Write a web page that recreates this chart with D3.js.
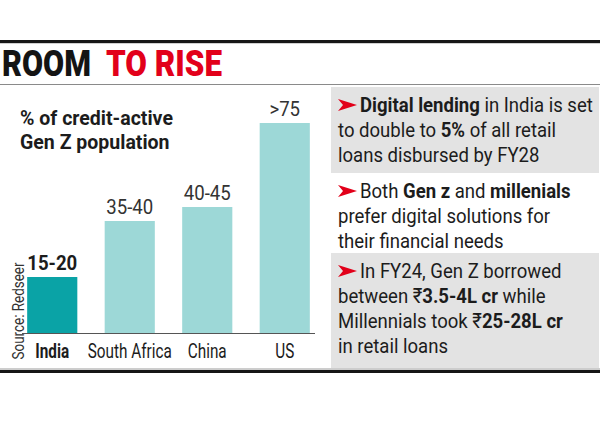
<!DOCTYPE html>
<html><head><meta charset="utf-8">
<script src="https://cdn.jsdelivr.net/npm/d3@7"></script>
<style>body{margin:0;background:#fff}svg{display:block}</style>
</head><body><svg id="c" width="600" height="425"></svg>
<script>
// ---------- data ----------
const titleParts = ["ROOM", "TO RISE"];
const titleColors = ["#141414", "#e2001a"];
const subtitleLines = ["% of credit-active", "Gen Z population"];
const categories = ["India", "South Africa", "China", "US"];
const values = [20, 40, 45, 75];            // upper bound of each range
const valueLabels = ["15-20", "35-40", "40-45", ">75"];
const highlight = "India";
const sourceText = "Source: Redseer";
const noteLines = [
  [ [["Digital lending",1],[" in India is set",0]],
    [["to double to ",0],["5%",1],[" of all retail",0]],
    [["loans disbursed by FY28",0]] ],
  [ [["Both ",0],["Gen z",1],[" and ",0],["millenials",1]],
    [["prefer digital solutions for",0]],
    [["their financial needs",0]] ],
  [ [["In FY24, Gen Z borrowed",0]],
    [["between ₹",0],["3.5-4L cr",1],[" while",0]],
    [["Millennials took ₹",0],["25-28L cr",1]],
    [["in retail loans",0]] ]
];

// ---------- setup ----------
const svg = d3.select("#c");
const FONT = "Roboto, 'Noto Sans', 'DejaVu Sans', sans-serif";
const INK = "#1c1c1c";

function scaleFor(sel, target) {
  const w = sel.node().getComputedTextLength();
  return w > 0 ? target / w : 1;
}

// top rules
svg.append("rect").attr("x", 0).attr("y", 40).attr("width", 600).attr("height", 3.2).attr("fill", "#161616");
svg.append("line").attr("x1", 0).attr("x2", 600).attr("y1", 84.5).attr("y2", 84.5).attr("stroke", "#8a8a8a").attr("stroke-width", 1);

// title (two words, placed like the reference)
const titleX = [2, 106], titleW = [89, 116];
svg.append("g").selectAll("text").data(titleParts).join("text")
  .attr("x", (d, i) => titleX[i]).attr("y", 75.5)
  .attr("font-family", FONT).attr("font-weight", 900).attr("font-size", 36)
  .attr("fill", (d, i) => titleColors[i])
  .attr("textLength", (d, i) => titleW[i]).attr("lengthAdjust", "spacingAndGlyphs")
  .text(d => d);

// bottom rules
svg.append("line").attr("x1", 0).attr("x2", 600).attr("y1", 369).attr("y2", 369).attr("stroke", "#9a9a9a").attr("stroke-width", 1);
svg.append("rect").attr("x", 0).attr("y", 370).attr("width", 600).attr("height", 3).attr("fill", "#161616");

// ---------- chart ----------
const x = d3.scaleBand().domain(categories).range([14, 323]).paddingInner(0.353).paddingOuter(0.17);
const y = d3.scaleLinear().domain([0, 75]).range([333, 123]);

// subtitle
const subG = svg.append("g");
const sub = subG.selectAll("text").data(subtitleLines).join("text")
  .attr("font-family", FONT).attr("font-weight", 700).attr("font-size", 21)
  .attr("fill", INK).text(d => d);
const subCf = scaleFor(sub.filter((d, i) => i === 0), 153);
sub.attr("transform", (d, i) => `translate(20,${124.5 + i * 24}) scale(${subCf},1)`);

// bars
svg.append("g").selectAll("rect").data(categories).join("rect")
  .attr("x", d => x(d)).attr("width", x.bandwidth())
  .attr("y", (d, i) => y(values[i])).attr("height", (d, i) => y(0) - y(values[i]))
  .attr("fill", d => d === highlight ? "#0aa3a6" : "#9dd8d7");

// baseline
svg.append("line").attr("x1", 22).attr("x2", 315).attr("y1", 333.5).attr("y2", 333.5)
  .attr("stroke", "#555").attr("stroke-width", 1);

// value labels
const vl = svg.append("g").selectAll("text").data(categories).join("text")
  .attr("font-family", FONT).attr("font-size", 20.5).attr("text-anchor", "middle")
  .attr("font-weight", d => d === highlight ? 700 : 400)
  .attr("fill", d => d === highlight ? INK : "#333")
  .text((d, i) => valueLabels[i]);
const vlCf = scaleFor(vl.filter((d, i) => i === 1), 47);
vl.attr("transform", (d, i) => `translate(${x(d) + x.bandwidth() / 2},${y(values[i]) - 7}) scale(${vlCf},1)`);

// category axis
const axis = svg.append("g").attr("transform", "translate(0,333)")
  .call(d3.axisBottom(x).tickSize(0));
axis.select(".domain").remove();
const at = axis.selectAll("text")
  .attr("font-family", FONT).attr("font-size", 20).attr("fill", INK)
  .attr("font-weight", d => d === highlight ? 700 : 400)
  .attr("y", 0).attr("dy", 0);
const atCf = scaleFor(at.filter(d => d === "South Africa"), 84);
at.attr("transform", `translate(0,24.5) scale(${atCf},1)`);

// source
svg.append("text").attr("transform", "translate(24,311) rotate(-90)")
  .attr("text-anchor", "middle").attr("font-family", FONT).attr("font-size", 17)
  .attr("fill", "#333").attr("textLength", 97).attr("lengthAdjust", "spacingAndGlyphs")
  .text(sourceText);

// ---------- notes panel ----------
const boxes = [[87, 173, true], [173, 253, false], [253, 368, true]];
const panel = svg.append("g");
panel.selectAll("rect").data(boxes).join("rect")
  .attr("x", 331).attr("width", 268)
  .attr("y", d => d[0]).attr("height", d => d[1] - d[0])
  .attr("fill", d => d[2] ? "#e3e3e3" : "#ffffff");

const lineEls = [];
noteLines.forEach((lines, ni) => {
  const top = boxes[ni][0];
  const firstBase = top + 25;
  // arrow bullet
  const cy = firstBase - 7;
  panel.append("path")
    .attr("d", `M338,${cy - 6} L357,${cy} L338,${cy + 6} L343,${cy} Z`)
    .attr("fill", "#e2001a");
  lines.forEach((segs, li) => {
    const t = panel.append("text")
      .attr("font-family", FONT).attr("font-size", 21).attr("fill", INK)
      .datum({x: li === 0 ? 360 : 338, y: firstBase + li * 25});
    t.selectAll("tspan").data(segs).join("tspan")
      .attr("font-weight", d => d[1] ? 700 : 400).text(d => d[0]);
    lineEls.push(t);
  });
});
const noteCf = scaleFor(lineEls[0], 233);
lineEls.forEach(t => t.attr("transform", d => `translate(${d.x},${d.y}) scale(${noteCf},1)`));
</script></body></html>
